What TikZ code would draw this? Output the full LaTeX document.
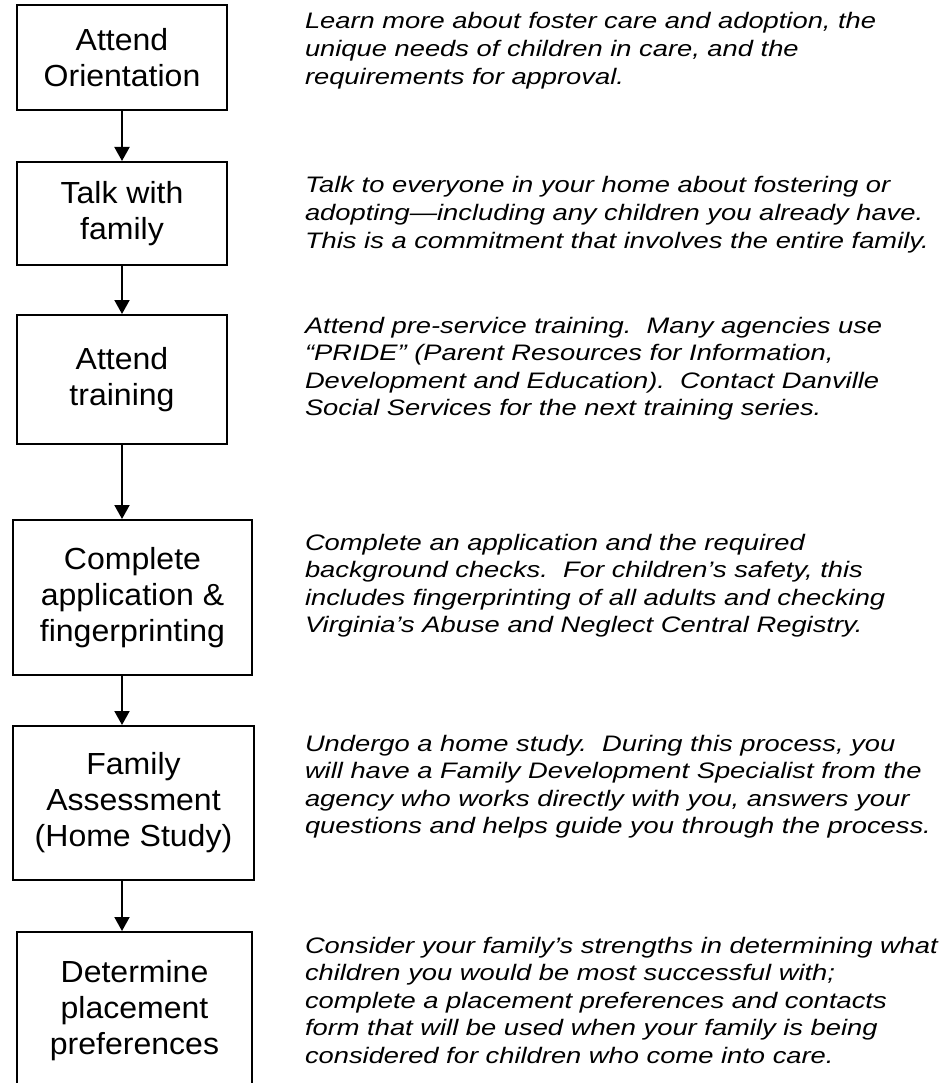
\documentclass[tikz,border=0pt]{standalone}
\usepackage{fontspec}
\setmainfont{Liberation Sans}
\newfontfamily\boxfont[FakeStretch=1.05]{Liberation Sans}
\newfontfamily\descfont[FakeStretch=1.22]{Liberation Sans}
\usetikzlibrary{arrows.meta}
\begin{document}
\begin{tikzpicture}
[x=1pt,y=-1pt,line width=2pt,
 stepbox/.style={shape=rectangle,draw,align=center,inner sep=0pt,font=\boxfont\fontsize{30.5}{36}\selectfont},
 desc/.style={anchor=base west,align=left,inner sep=0pt,font=\descfont\itshape\fontsize{22.4}{27.6}\selectfont},
 flow/.style={-{Triangle[width=15pt,length=14pt]}}]
\useasboundingbox (0,0) rectangle (938,1083);
\path (122,57.5) node (b1) [stepbox,minimum width=210pt,minimum height=105pt] {Attend\\Orientation}
(122,213.5) node (b2) [stepbox,minimum width=210pt,minimum height=103pt] {Talk with\\family}
(122,379.5) node (b3) [stepbox,minimum width=210pt,minimum height=129pt] {Attend\\training}
(132.5,597.5) node (b4) [stepbox,minimum width=239pt,minimum height=155pt] {Complete\\application \&\\fingerprinting}
(133.5,803) node (b5) [stepbox,minimum width=241pt,minimum height=154pt] {Family\\Assessment\\(Home Study)}
(134.5,1011) node (b6) [stepbox,minimum width=235pt,minimum height=158pt] {Determine\\placement\\preferences};
% desc nodes sit on the baseline of their last line
\path (304,84.2) node (d1) [desc] {Learn more about foster care and adoption, the\\unique needs of children in care, and the\\requirements for approval.}
(304,248.2) node (d2) [desc] {Talk to everyone in your home about fostering or\\adopting—including any children you already have.\\This is a commitment that involves the entire family.}
(304,415.8) node (d3) [desc] {Attend pre-service training.\ \ Many agencies use\\“PRIDE” (Parent Resources for Information,\\Development and Education).\ \ Contact Danville\\Social Services for the next training series.}
(304,632.8) node (d4) [desc] {Complete an application and the required\\background checks.\ \ For children’s safety, this\\includes fingerprinting of all adults and checking\\Virginia’s Abuse and Neglect Central Registry.}
(304,833.8) node (d5) [desc] {Undergo a home study.\ \ During this process, you\\will have a Family Development Specialist from the\\agency who works directly with you, answers your\\questions and helps guide you through the process.}
(304,1063.4) node (d6) [desc] {Consider your family’s strengths in determining what\\children you would be most successful with;\\complete a placement preferences and contacts\\form that will be used when your family is being\\considered for children who come into care.};
\draw [flow] (b1) -- (b2);
\draw [flow] (b2) -- (b3);
\draw [flow] (b3.south) -- (b3.south |- b4.north);
\draw [flow] (b4.south -| b1.south) -- (b5.north -| b1.south);
\draw [flow] (b5.south -| b1.south) -- (b6.north -| b1.south);
\end{tikzpicture}
\end{document}
